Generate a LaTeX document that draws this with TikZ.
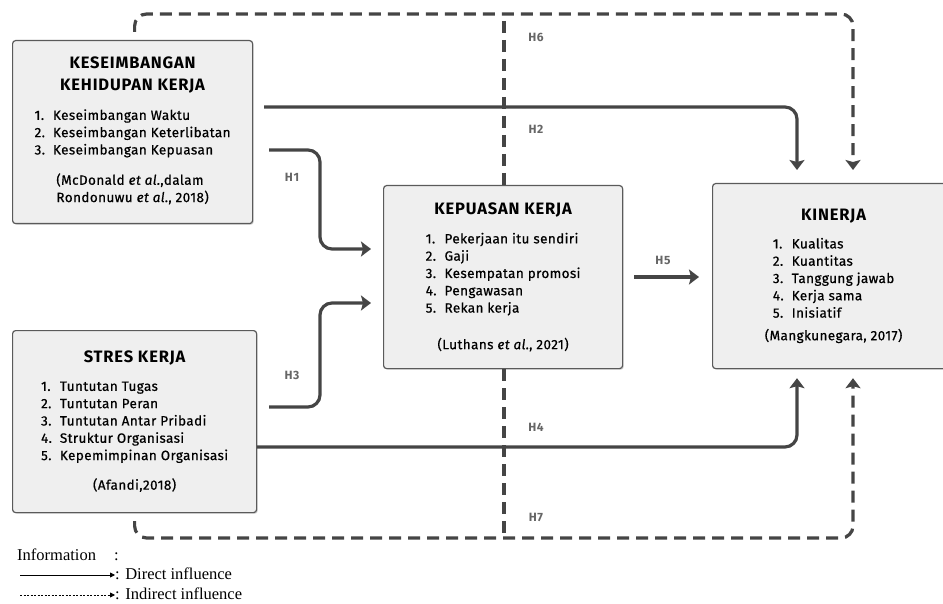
\documentclass[tikz,border=0pt]{standalone}
\usepackage{fontspec}
\setmainfont{Liberation Serif}
\newfontfamily\boxsans{Fira Sans}[LetterSpace=3, FakeBold=0.6]
\newfontfamily\boxsanstitle{Fira Sans}[LetterSpace=5]
\usetikzlibrary{positioning,arrows.meta,shadows}
\definecolor{boxfill}{HTML}{EFEFEF}
\definecolor{boxline}{HTML}{5A5A5A}
\definecolor{linkgray}{HTML}{454545}
\definecolor{hypgray}{HTML}{666666}
\newcommand{\titlefont}{\boxsanstitle\bfseries\fontsize{16.5}{22}\selectfont}
\newcommand{\listfont}{\boxsans\fontsize{13.5}{17.3}\selectfont}
\tikzset{
  varbox/.style={draw=boxline, fill=boxfill, line width=1.2pt, rounded corners=3pt,
                 anchor=north west, inner sep=0pt, align=center, font=\listfont,
                 drop shadow={shadow xshift=1.2pt, shadow yshift=-1.2pt, opacity=.3}},
  direct/.style={draw=linkgray, line width=3.2pt, rounded corners=12pt,
                 -{Stealth[length=10pt,width=15pt,inset=2pt]}},
  indirect/.style={direct, dash pattern=on 12pt off 7pt},
  hyplabel/.style={font=\boxsanstitle\bfseries\fontsize{12}{14}\selectfont, text=hypgray},
  legendtext/.style={font=\fontsize{16.5}{20}\selectfont, anchor=west, inner sep=0pt},
  legendarrow/.style={line width=0.8pt, -{Triangle[length=5pt,width=5pt]}},
}

\begin{document}
\begin{tikzpicture}[x=1pt, y=-1pt]
  \useasboundingbox (0,0) rectangle (943,604);

  \node[varbox, minimum width=240pt, minimum height=183pt] (balance) at (12,40) {%
    \titlefont KESEIMBANGAN\\[5pt]
    \titlefont KEHIDUPAN KERJA\\[13pt]
    \begin{tabular}{@{}l@{\hspace{8pt}}l@{}}
      1.&Keseimbangan Waktu\\
      2.&Keseimbangan Keterlibatan\\
      3.&Keseimbangan Kepuasan
    \end{tabular}\\[12pt]
    \begin{tabular}{@{}l@{}}
      (McDonald \textit{et al.},dalam\\
      Rondonuwu \textit{et al.}, 2018)
    \end{tabular}};
  \node[varbox, minimum width=244pt, minimum height=182pt] (stress) at (12,330) {%
    \titlefont STRES KERJA\\[12pt]
    \begin{tabular}{@{}l@{\hspace{8pt}}l@{}}
      1.&Tuntutan Tugas\\
      2.&Tuntutan Peran\\
      3.&Tuntutan Antar Pribadi\\
      4.&Struktur Organisasi\\
      5.&Kepemimpinan Organisasi
    \end{tabular}\\[12pt]
    (Afandi,2018)};
  \node[varbox, minimum width=239pt, minimum height=183pt] (satisfaction) at (383,185) {%
    \titlefont KEPUASAN KERJA\\[13pt]
    \begin{tabular}{@{}l@{\hspace{8pt}}l@{}}
      1.&Pekerjaan itu sendiri\\
      2.&Gaji\\
      3.&Kesempatan promosi\\
      4.&Pengawasan\\
      5.&Rekan kerja
    \end{tabular}\\[19pt]
    (Luthans \textit{et al.}, 2021)};
  \node[varbox, minimum width=242pt, minimum height=185pt] (kinerja) at (712,183) {%
    \titlefont KINERJA\\[12pt]
    \begin{tabular}{@{}l@{\hspace{8pt}}l@{}}
      1.&Kualitas\\
      2.&Kuantitas\\
      3.&Tanggung jawab\\
      4.&Kerja sama\\
      5.&Inisiatif
    \end{tabular}\\[5pt]
    (Mangkunegara, 2017)};

  \coordinate (topy) at (0,14);
  \coordinate (boty) at (0,538);
  \coordinate (midx) at (504,0);
  \coordinate (bendx) at (320,0);
  \coordinate (h1in) at ([xshift=-12pt,yshift=-64pt]satisfaction.north west);
  \coordinate (h3in) at ([xshift=-12pt,yshift=-118pt]satisfaction.north west);

  % direct paths
  \draw[direct] ([xshift=16pt,yshift=-110pt]balance.north east) -| (bendx |- h1in) -- (h1in);
  \draw[direct] ([xshift=11pt,yshift=-67pt]balance.north east) -| ([xshift=85pt,yshift=13pt]kinerja.north west);
  \draw[direct] ([xshift=12pt,yshift=-77pt]stress.north east) -| (bendx |- h3in) -- (h3in);
  \draw[direct] ([yshift=-117pt]stress.north east) -| ([xshift=85pt,yshift=-9pt]kinerja.south west);
  \draw[direct] ([xshift=11pt,yshift=-92pt]satisfaction.north east) -- ([xshift=-13pt,yshift=-94pt]kinerja.north west);

  % indirect paths
  \draw[indirect] ([xshift=2pt,yshift=8pt]balance.north) -- ([xshift=2pt]balance.north |- topy) -| ([xshift=141pt,yshift=13pt]kinerja.north west);
  \draw[indirect] ([yshift=-8pt]stress.south) -- (stress.south |- boty) -| ([xshift=141pt,yshift=-9pt]kinerja.south west);
  \draw[indirect, -, dash phase=12pt] (midx |- topy) -- (midx |- satisfaction.north);
  \draw[indirect, -] (midx |- satisfaction.south) -- (midx |- boty);

  \node[hyplabel] (h1lab) at (292,177) {H1};
  \node[hyplabel] (h2lab) at (536,129) {H2};
  \node[hyplabel] (h3lab) at (292,375) {H3};
  \node[hyplabel] (h4lab) at (536,427) {H4};
  \node[hyplabel] (h5lab) at (663,260) {H5};
  \node[hyplabel] (h6lab) at (536,37) {H6};
  \node[hyplabel] (h7lab) at (536,517) {H7};

  % legend
  \node[legendtext] (legtitle) at (17,555) {Information\hspace{18pt}:};
  \node[legendtext] (legdirect) at (115,574) {: Direct influence};
  \node[legendtext] (legindirect) at (115,594) {: Indirect influence};
  \coordinate (legdirectstart) at (20,575);
  \coordinate (legindirectstart) at (20,595);
  \draw[legendarrow] (legdirectstart) -- (legdirect.west |- legdirectstart);
  \draw[legendarrow, dash pattern=on 2pt off 1.5pt] (legindirectstart) -- (legindirect.west |- legindirectstart);
\end{tikzpicture}
\end{document}
